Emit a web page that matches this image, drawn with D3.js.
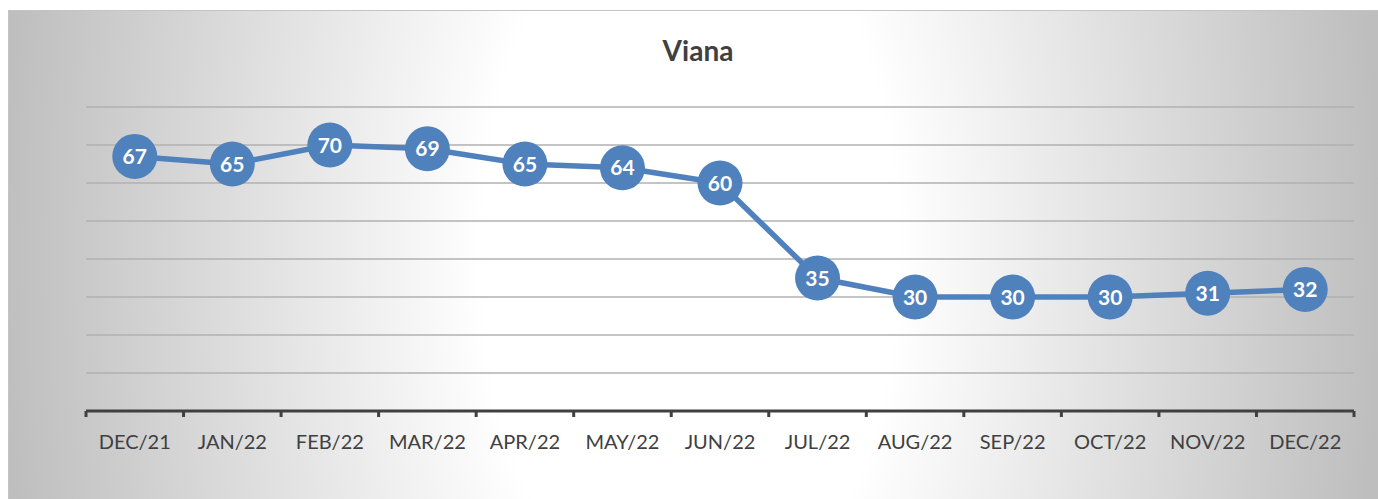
<!DOCTYPE html>
<html>
<head>
<meta charset="utf-8">
<script src="https://cdn.jsdelivr.net/npm/d3@7"></script>
<style>
  html, body { margin: 0; padding: 0; background: #fff; }
  svg { display: block; }
</style>
</head>
<body>
<svg width="1378" height="499"></svg>
<script>
var months = ['DEC/21', 'JAN/22', 'FEB/22', 'MAR/22', 'APR/22', 'MAY/22', 'JUN/22',
              'JUL/22', 'AUG/22', 'SEP/22', 'OCT/22', 'NOV/22', 'DEC/22'];
var values = [67, 65, 70, 69, 65, 64, 60, 35, 30, 30, 30, 31, 32];
var yTicks = [10, 20, 30, 40, 50, 60, 70, 80];
var title = 'Viana';

var blue = '#4F81BD';
var font = 'Lato, "Open Sans", sans-serif';

var svg = d3.select('svg');

// background: white vertical band in the middle, grey to the sides
var defs = svg.append('defs');
var grad = defs.append('radialGradient')
    .attr('id', 'bg')
    .attr('gradientUnits', 'userSpaceOnUse')
    .attr('cx', 690).attr('cy', 255).attr('r', 690)
    .attr('gradientTransform', 'translate(690,255) scale(1,1.8) translate(-690,-255)');
grad.append('stop').attr('offset', 0).attr('stop-color', '#ffffff');
grad.append('stop').attr('offset', 0.3).attr('stop-color', '#ffffff');
grad.append('stop').attr('offset', 1).attr('stop-color', '#bebebe');

// chart box
svg.append('rect')
    .attr('x', 8.5).attr('y', 10.5)
    .attr('width', 1370).attr('height', 489)
    .attr('fill', 'url(#bg)')
    .attr('stroke', '#c4c4c4')
    .attr('stroke-width', 1);

var x = d3.scaleBand()
    .domain(months)
    .range([86, 1354])
    .padding(0);

var y = d3.scaleLinear()
    .domain([0, 80])
    .range([411, 107]);

function cx(d, i) { return x(months[i]) + x.bandwidth() / 2; }

// gridlines
svg.append('g')
    .selectAll('line')
    .data(yTicks)
    .enter()
    .append('line')
    .attr('x1', 86).attr('x2', 1354)
    .attr('y1', function (d) { return y(d); })
    .attr('y2', function (d) { return y(d); })
    .attr('stroke', '#b0b0b0')
    .attr('stroke-width', 1.3);

// category axis
var axis = svg.append('g')
    .attr('transform', 'translate(0,' + y(0) + ')')
    .call(d3.axisBottom(x).tickSize(0).tickPadding(24));
axis.select('.domain').remove();
axis.selectAll('text')
    .attr('font-family', font)
    .attr('font-size', 20)
    .attr('fill', '#404040');

axis.append('line')
    .attr('x1', 86).attr('x2', 1354)
    .attr('y1', 0).attr('y2', 0)
    .attr('stroke', '#404040')
    .attr('stroke-width', 3);

var bounds = months.map(function (m) { return x(m); }).concat([x.range()[1]]);
axis.selectAll('.bound')
    .data(bounds)
    .enter()
    .append('line')
    .attr('class', 'bound')
    .attr('x1', function (d) { return d; })
    .attr('x2', function (d) { return d; })
    .attr('y1', 0).attr('y2', 6)
    .attr('stroke', '#404040')
    .attr('stroke-width', 3);

// line
var line = d3.line()
    .x(cx)
    .y(function (d) { return y(d); });

svg.append('path')
    .datum(values)
    .attr('d', line)
    .attr('fill', 'none')
    .attr('stroke', blue)
    .attr('stroke-width', 5.5)
    .attr('stroke-linejoin', 'round');

var pts = svg.append('g')
    .selectAll('g')
    .data(values)
    .enter()
    .append('g')
    .attr('transform', function (d, i) { return 'translate(' + cx(d, i) + ',' + y(d) + ')'; });

pts.append('circle')
    .attr('r', 22.5)
    .attr('fill', blue);

pts.append('text')
    .attr('text-anchor', 'middle')
    .attr('dy', '0.36em')
    .attr('font-family', font)
    .attr('font-weight', 'bold')
    .attr('font-size', 21)
    .attr('fill', '#ffffff')
    .text(function (d) { return d; });

// title
svg.append('text')
    .attr('x', 698).attr('y', 61)
    .attr('text-anchor', 'middle')
    .attr('font-family', font)
    .attr('font-weight', 'bold')
    .attr('font-size', 28)
    .attr('fill', '#404040')
    .text(title);
</script>
</body>
</html>
